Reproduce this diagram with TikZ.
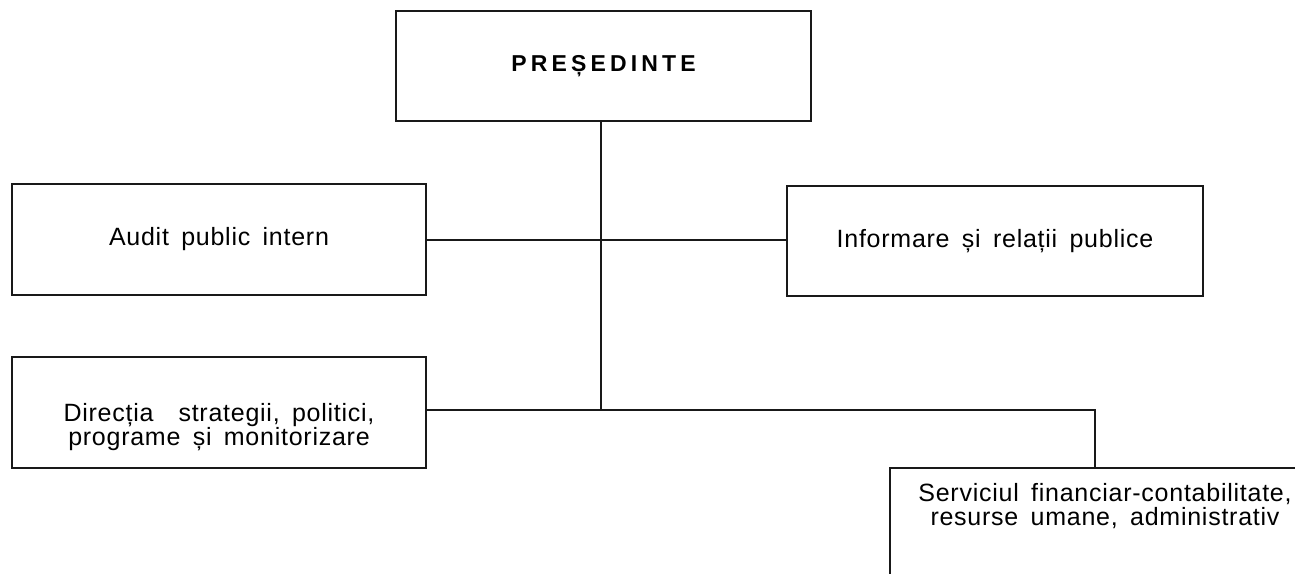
\documentclass[tikz,border=0pt]{standalone}
\usepackage{fontspec}
\setmainfont[WordSpace=1.6,LetterSpace=3]{Liberation Sans}
\newfontfamily\presfont[LetterSpace=18]{Liberation Sans}
\begin{document}
\begin{tikzpicture}[x=0.5pt,y=-0.5pt,
  box/.style={draw=black!90, line width=1pt, rectangle, inner sep=0pt, align=center, font=\fontsize{12.5}{12}\selectfont},
  txt/.style={inner sep=0pt, align=center, font=\fontsize{12.5}{12}\selectfont},
  conn/.style={draw=black!90, line width=0.9pt}]
\useasboundingbox (0,0) rectangle (1295,573);
\clip (0,0) rectangle (1295,573);
\fill[white] (0,0) rectangle (1295,573);
\node[box, minimum width=207.5pt, minimum height=55pt, font=\presfont\bfseries\fontsize{11.5}{12}\selectfont] (pres) at (603.5,66) {PREȘEDINTE};
\node[box, minimum width=207pt, minimum height=55.5pt] (audit) at (219,239.5) {Audit public intern};
\node[box, minimum width=208pt, minimum height=55pt] (info) at (995,241) {Informare și relații publice};
\node[box, minimum width=207pt, minimum height=55.5pt] (dir) at (219,412.5) {};
\node[txt] (dirtext) at (219,427) {Direcția\quad strategii, politici,\\programe și monitorizare};
\node[box, minimum width=215pt, minimum height=60pt] (serv) at (1105,528) {};
\node[txt] (servtext) at (1105,506) {Serviciul financiar-contabilitate,\\resurse umane, administrativ};
\coordinate (j1) at (601,240);
\coordinate (j2) at (601,410);
\coordinate (servtop) at (1095,468);
\draw[conn] (pres.south -| j2) -- (j2);
\draw[conn] (audit.east |- j1) -- (info.west |- j1);
\draw[conn] (dir.east |- j2) -- (j2) -- (j2 -| servtop) -- (servtop);
\end{tikzpicture}
\end{document}
